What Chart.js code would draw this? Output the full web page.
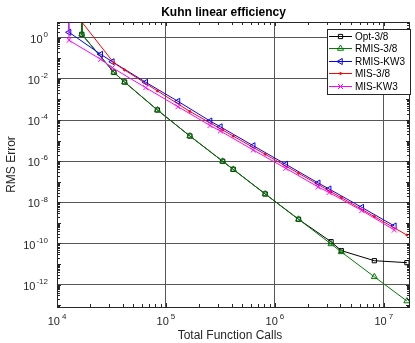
<!DOCTYPE html>
<html lang="en">
<head>
<meta charset="UTF-8">
<title>Kuhn linear efficiency</title>
<script src="https://cdn.jsdelivr.net/npm/chart.js"></script>
<style>
  body { margin: 0; background: #fff; }
  canvas { display: block; }
</style>
</head>
<body>
<canvas id="kuhnChart" width="415" height="343"></canvas>
<script>
// total function calls (first entry of each run lies far above the plot)
const calls38 = [16700, 16900, 33300, 41700, 83500, 166000, 332000, 415000, 815000, 1650000, 3280000, 4070000, 8190000, 16300000];
const callsKW3 = [12500, 12900, 25200, 32200, 65300, 129000, 254000, 316000, 633000, 1260000, 2500000, 3150000, 6280000, 12500000];

// RMS error per run
const opt38   = [1e4, 1.46, 2.08e-2, 7.0e-3, 3.07e-4, 1.67e-5, 9.9e-7, 4.0e-7, 2.55e-8, 1.5e-9, 1.22e-10, 4.5e-11, 1.46e-11, 1.17e-11];
const rmis38  = [1e4, 1.46, 2.08e-2, 7.0e-3, 3.07e-4, 1.67e-5, 9.9e-7, 4.0e-7, 2.55e-8, 1.5e-9, 9.5e-11, 3.9e-11, 2.4e-12, 1.6e-13];
const rmisKW3 = [1e4, 1.83, 0.156, 0.0682, 6.8e-3, 8.1e-4, 8.96e-5, 4.68e-5, 5.65e-6, 7.05e-7, 8.7e-8, 4.45e-8, 5.7e-9, 7.1e-10];
const mis38   = [null, 5.8, 0.059, 0.027, 2.6e-3, 2.6e-4, 3.26e-5, 1.66e-5, 2.16e-6, 2.58e-7, 3.23e-8, 1.7e-8, 2.04e-9, 2.56e-10];
const misKW3  = [1e4, 0.748, 0.0892, 0.0349, 3.72e-3, 4.44e-4, 5.42e-5, 2.93e-5, 3.49e-6, 4.5e-7, 5.57e-8, 3.0e-8, 4.0e-9, 4.5e-10];

// labelled decades
const xTickExps = [4, 5, 6, 7];
const yTickExps = [0, -2, -4, -6, -8, -10, -12];

const xMin = 1e4, xMax = 1.74e7;
const yMin = 8.2e-14, yMax = 5.8;

function pts(xs, ys) {
    return xs.map((x, i) => ({ x: x, y: ys[i] })).filter(p => p.y !== null);
}

function isDecade(v) {
    const l = Math.log10(v);
    return Math.abs(l - Math.round(l)) < 1e-6;
}

// 1..9 x 10^n ticks inside the range
function logTicks(min, max) {
    const out = [];
    for (let e = Math.floor(Math.log10(min)); e <= Math.ceil(Math.log10(max)); e++) {
        for (let m = 1; m < 10; m++) {
            const v = m * Math.pow(10, e);
            if (v >= min * 0.999 && v <= max * 1.001) out.push({ value: v });
        }
    }
    return out;
}

const gridCol = '#555555';
const textCol = '#262626';
const fam = '"Liberation Sans", Arial, Helvetica, sans-serif';

const axesBox = {
    id: 'axesBox',
    afterDraw(chart) {
        const c = chart.ctx, a = chart.chartArea;
        const xs = chart.scales.x, ys = chart.scales.y;
        c.save();

        // inward tick marks on all four sides
        c.strokeStyle = textCol;
        c.lineWidth = 1;
        c.beginPath();
        xs.ticks.forEach(t => {
            const px = Math.round(xs.getPixelForValue(t.value)) + 0.5;
            const len = isDecade(t.value) ? 4 : 3;
            c.moveTo(px, a.bottom); c.lineTo(px, a.bottom - len);
            c.moveTo(px, a.top); c.lineTo(px, a.top + len);
        });
        ys.ticks.forEach(t => {
            const py = Math.round(ys.getPixelForValue(t.value)) + 0.5;
            const len = isDecade(t.value) ? 4 : 3;
            c.moveTo(a.left, py); c.lineTo(a.left + len, py);
            c.moveTo(a.right, py); c.lineTo(a.right - len, py);
        });
        c.stroke();
        c.strokeRect(Math.round(a.left) + 0.5, Math.round(a.top) + 0.5,
            Math.round(a.right - a.left) - 1, Math.round(a.bottom - a.top));

        // tick labels 10^n
        c.fillStyle = textCol;
        c.textBaseline = 'middle';
        yTickExps.forEach(e => {
            const py = ys.getPixelForValue(Math.pow(10, e));
            c.font = '8px ' + fam;
            const ew = c.measureText(String(e)).width;
            c.textAlign = 'left';
            c.fillText(String(e), 48 - ew, py - 3);
            c.font = '11px ' + fam;
            c.textAlign = 'right';
            c.fillText('10', 47 - ew, py + 2);
        });
        xTickExps.forEach(e => {
            const px = xs.getPixelForValue(Math.pow(10, e));
            c.font = '11px ' + fam;
            const bw = c.measureText('10').width;
            c.font = '8px ' + fam;
            const ew = c.measureText(String(e)).width;
            const x0 = px - (bw + 2 + ew) / 2;
            c.textAlign = 'left';
            c.fillText(String(e), x0 + bw + 2, a.bottom + 10);
            c.font = '11px ' + fam;
            c.fillText('10', x0, a.bottom + 15);
        });

        // titles
        c.textAlign = 'center';
        c.font = '12px ' + fam;
        c.fillText('Total Function Calls', 230, 336);
        c.save();
        c.translate(12, (a.top + a.bottom) / 2);
        c.rotate(-Math.PI / 2);
        c.fillText('RMS Error', 0, 0);
        c.restore();
        c.fillStyle = '#000';
        c.font = 'bold 12px ' + fam;
        c.fillText('Kuhn linear efficiency', 223.5, 12.5);

        // legend box inside the axes
        const lx = 327.5, ly = 29.5, lw = 83, lh = 65;
        c.fillStyle = '#fff';
        c.fillRect(lx, ly, lw, lh);
        c.strokeStyle = '#262626';
        c.strokeRect(lx, ly, lw, lh);
        c.font = '10px ' + fam;
        c.textAlign = 'left';
        chart.data.datasets.forEach((ds, i) => {
            const y = Math.round(ly + 6 + i * 12.5) + 0.5;
            c.strokeStyle = ds.borderColor;
            c.lineWidth = 1;
            c.beginPath();
            c.moveTo(329, y); c.lineTo(352, y);
            c.stroke();
            if (Chart.helpers && Chart.helpers.drawPoint) {
                c.fillStyle = ds.pointBackgroundColor;
                Chart.helpers.drawPoint(c, {
                    pointStyle: ds.pointStyle, rotation: ds.pointRotation || 0,
                    radius: ds.pointRadius, borderWidth: 1
                }, 340.5, y);
            }
            c.fillStyle = '#000';
            c.fillText(ds.label, 355, y + 0.5);
        });
        c.restore();
    }
};

function series(label, xs, ys, color, style, radius, order, extra) {
    return Object.assign({
        label: label,
        data: pts(xs, ys),
        borderColor: color,
        backgroundColor: color,
        borderWidth: 1,
        pointStyle: style,
        pointRadius: radius,
        pointBorderColor: color,
        pointBackgroundColor: 'rgba(0,0,0,0)',
        pointBorderWidth: 1,
        tension: 0,
        order: order
    }, extra || {});
}

const ctx = document.getElementById('kuhnChart').getContext('2d');
const chart = new Chart(ctx, {
    type: 'line',
    data: {
        datasets: [
            series('Opt-3/8', calls38, opt38, '#000000', 'rect', 3, 5),
            series('RMIS-3/8', calls38, rmis38, '#007a00', 'triangle', 3.5, 4),
            series('RMIS-KW3', callsKW3, rmisKW3, '#0000ff', 'triangle', 3.5, 3, { pointRotation: -90 }),
            series('MIS-3/8', calls38, mis38, '#ff0000', 'circle', 1, 2, { pointBackgroundColor: '#ff0000' }),
            series('MIS-KW3', callsKW3, misKW3, '#ff00ff', 'crossRot', 3.5, 1)
        ]
    },
    options: {
        responsive: false,
        animation: false,
        layout: { padding: { top: 22, right: 1, left: 0, bottom: 0 } },
        plugins: {
            legend: { display: false },
            title: { display: false },
            tooltip: { enabled: false }
        },
        scales: {
            x: {
                type: 'logarithmic',
                min: xMin,
                max: xMax,
                afterFit: s => { s.height = 36; },
                afterBuildTicks: s => { s.ticks = logTicks(xMin, xMax); },
                ticks: { display: false },
                border: { display: false },
                grid: {
                    drawTicks: false,
                    color: c => (c.tick && isDecade(c.tick.value)) ? gridCol : 'rgba(0,0,0,0)'
                }
            },
            y: {
                type: 'logarithmic',
                min: yMin,
                max: yMax,
                afterFit: s => { s.width = 57; },
                afterBuildTicks: s => { s.ticks = logTicks(yMin, yMax); },
                ticks: { display: false },
                border: { display: false },
                grid: {
                    drawTicks: false,
                    color: c => {
                        if (!c.tick || !isDecade(c.tick.value)) return 'rgba(0,0,0,0)';
                        const e = Math.round(Math.log10(c.tick.value));
                        return (e % 2 === 0) ? gridCol : 'rgba(0,0,0,0)';
                    }
                }
            }
        }
    },
    plugins: [axesBox]
});
</script>
</body>
</html>
